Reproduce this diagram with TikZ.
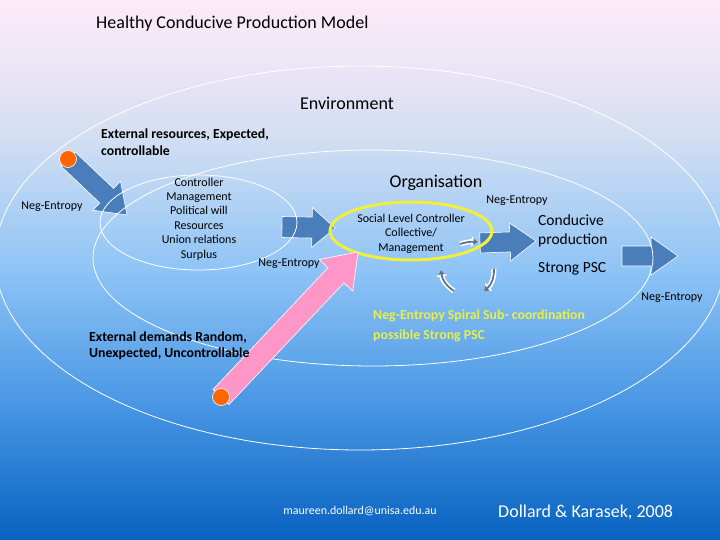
\documentclass[tikz,border=0pt]{standalone}
\usepackage{fontspec}
\setmainfont{Carlito}
\usepackage{tikz}
\usetikzlibrary{calc,arrows.meta}
\pgfdeclarelayer{background}
\pgfsetlayers{background,main}

\definecolor{bgtop}{RGB}{252,234,248}
\definecolor{bgpale}{RGB}{238,230,246}
\definecolor{bgupper}{RGB}{212,223,242}
\definecolor{bgmid}{RGB}{142,196,246}
\definecolor{bglower}{RGB}{72,150,228}
\definecolor{bgbottom}{RGB}{8,98,192}
\definecolor{arrblue}{RGB}{74,126,187}
\definecolor{dotorange}{RGB}{255,102,0}
\definecolor{arrpink}{RGB}{255,150,200}
\definecolor{ringyellow}{RGB}{240,240,60}
\definecolor{spiraltxt}{RGB}{232,240,70}
\definecolor{spiralgrey}{RGB}{95,115,150}

% the path is stretched over 25bp..75bp of the shading
\pgfdeclareverticalshading{slidebg}{100bp}{color(0bp)=(bgbottom); color(25bp)=(bgbottom); color(37.5bp)=(bglower); color(50bp)=(bgmid); color(62.5bp)=(bgupper); color(69.5bp)=(bgpale); color(75bp)=(bgtop); color(100bp)=(bgtop)}

% fat arrow: style, from, to, half shaft, half head, head length
\newcommand{\blockarrow}[6]{%
  \coordinate (ba-h) at ($(#3)!#6!(#2)$);
  \path[#1] ($(#2)!#4!90:(#3)$) -- ($(ba-h)!#4!90:(#3)$) -- ($(ba-h)!#5!90:(#3)$) -- (#3)
    -- ($(ba-h)!#5!-90:(#3)$) -- ($(ba-h)!#4!-90:(#3)$) -- ($(#2)!#4!-90:(#3)$) -- cycle;
}

\tikzset{
  ring/.style={draw=white, line width=0.8pt},
  bluearrow/.style={fill=arrblue, draw=white, line width=0.6pt},
  pinkarrow/.style={fill=arrpink, draw=white, line width=0.6pt},
  srcdot/.style={circle, fill=dotorange, draw=white, line width=0.6pt, minimum size=17pt, inner sep=0pt},
  negent/.style={font=\fontsize{12}{14}\selectfont, inner sep=0pt},
  lbl/.style={font=\fontsize{12}{14.4}\selectfont, align=center, inner sep=0pt},
  bigtxt/.style={font=\fontsize{18}{21}\selectfont, inner sep=0pt},
  boldtxt/.style={font=\bfseries\fontsize{13.8}{16.5}\selectfont, align=left, inner sep=0pt},
  prodtxt/.style={font=\fontsize{15.5}{19}\selectfont, align=left, inner sep=0pt},
  spiralarrow/.style={spiralgrey, line width=1.8pt, -{Triangle[length=4.5pt,width=6.5pt]},
    preaction={draw=white, line width=5pt, -{Triangle[length=6.5pt,width=10pt]}}}
}

\begin{document}
\begin{tikzpicture}[x=1pt,y=-1pt]
  \useasboundingbox (0,0) rectangle (720,540);

  % texts
  \node[bigtxt, anchor=west] (title) at (96,24) {Healthy Conducive Production Model};
  \node[bigtxt] (env) at (347,103) {Environment};
  \node[boldtxt, anchor=west, font=\bfseries\fontsize{13.8}{17}\selectfont] (extres) at (101,142.5) {External resources, Expected,\\controllable};
  \node[negent] (ne1) at (52,207) {Neg-Entropy};
  \node[lbl] (ctrl) at (199,219) {Controller\\Management\\Political will\\Resources\\Union relations\\Surplus};
  \node[negent] (ne2) at (289,264) {Neg-Entropy};
  \node[bigtxt] (org) at (436,183) {Organisation};
  \node[negent] (ne3) at (517,201) {Neg-Entropy};
  \node[lbl] (social) at (411,233.5) {Social Level Controller\\Collective/\\Management};
  \node[prodtxt, anchor=west] (cond) at (538,230.5) {Conducive\\production};
  \node[prodtxt, anchor=west] (psc) at (538,269) {Strong PSC};
  \node[negent] (ne4) at (672,298) {Neg-Entropy};
  \node[boldtxt, anchor=west, font=\bfseries\fontsize{13.8}{16}\selectfont] (extdem) at (89,346) {External demands Random,\\Unexpected, Uncontrollable};
  \node[boldtxt, anchor=west, text=spiraltxt, font=\bfseries\fontsize{13.8}{20}\selectfont] (spiral) at (373,326) {Neg-Entropy Spiral Sub- coordination\\possible Strong PSC};
  \node[font=\fontsize{11.9}{13}\selectfont, text=white, inner sep=0pt] (mail) at (360,511) {maureen.dollard@unisa.edu.au};
  \node[bigtxt, anchor=west, text=white] (cite) at (498,512) {Dollard \& Karasek, 2008};

  % sources and arrow ends
  \node[srcdot] (topdot) at (68,159) {};
  \node[srcdot] (lowdot) at (221,397) {};
  \coordinate (resin) at (127,215);
  \coordinate (ctrlout) at (282,227);
  \coordinate (orgin) at (335,228);
  \coordinate (orgout) at (480,243);
  \coordinate (prodin) at (536,241);
  \coordinate (envout) at (622,256);
  \coordinate (envend) at (678,256);
  \coordinate (demin) at (358,252);

  \begin{pgfonlayer}{background}
    \shade[shading=slidebg] (0,0) rectangle (720,540);

    \blockarrow{bluearrow}{topdot.center}{resin}{10pt}{20pt}{28pt}
    \blockarrow{bluearrow}{ctrlout}{orgin}{10.5pt}{20pt}{23pt}
    \blockarrow{bluearrow}{orgout}{prodin}{10pt}{19pt}{26pt}
    \blockarrow{bluearrow}{envout}{envend}{10pt}{19pt}{27pt}

    \draw[ring] (360,258) ellipse [x radius=365, y radius=192];
    \draw[ring] (373,258) ellipse [x radius=280, y radius=108];
    \draw[ring] (198.5,222.5) ellipse [x radius=98.5, y radius=47.5];

    \draw[ringyellow, line width=3pt] (411,231) ellipse [x radius=81, y radius=29];

    \blockarrow{pinkarrow}{lowdot.center}{demin}{11pt}{23pt}{32pt}

    \draw[spiralarrow] (460,244) to[bend left=10] (478,242);
    \draw[spiralarrow] (454,291) to[bend left=25] (441,270);
    \draw[spiralarrow] (494,269) to[bend left=25] (484,291);
  \end{pgfonlayer}
\end{tikzpicture}
\end{document}
